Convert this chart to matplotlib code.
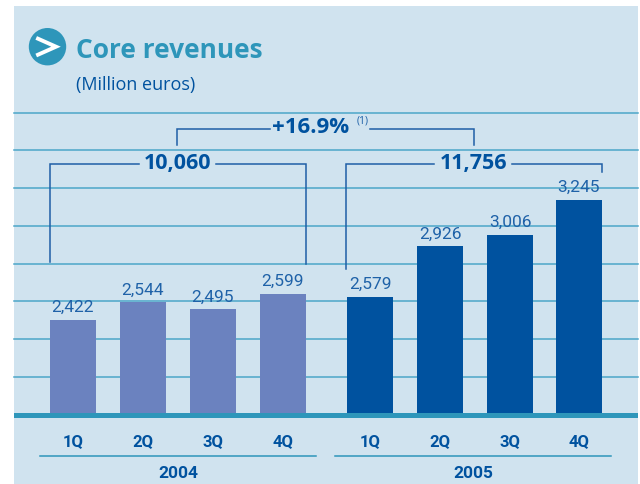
# -*- coding: utf-8 -*-
import matplotlib
matplotlib.use("Agg")
import matplotlib.pyplot as plt
from matplotlib.patches import Rectangle, Circle

quarters = ["1Q", "2Q", "3Q", "4Q"]
rev_2004 = [2422, 2544, 2495, 2599]
rev_2005 = [2579, 2926, 3006, 3245]
total_2004 = "10,060"
total_2005 = "11,756"
growth = "+16.9%"

panel = "#d0e3ef"
teal = "#2e96ba"
dark = "#00529f"
light = "#6b82bf"
grid = "#4ba6c9"
label_col = "#1f62a8"
narrow = ["Roboto", "DejaVu Sans"]
main = ["Open Sans", "DejaVu Sans"]

W, H = 640, 485
off = 0.7
fig = plt.figure(figsize=(W / 100, H / 100), dpi=100, facecolor="white")

# background axes in pixels, for panel and annotations
bg = fig.add_axes([0, 0, 1, 1], zorder=0)
bg.set_xlim(0, W)
bg.set_ylim(H - off, -off)
bg.axis("off")
bg.add_patch(Rectangle((14, 6), 624, 480, fc=panel, ec="none"))

# bar axes, 113..413 px, 1 px = 1/0.1458 euros
ax = fig.add_axes([14 / W, (H - 413 - off) / H, 624 / W, 300 / H], zorder=1)
ax.patch.set_visible(False)
ax.set_xlim(14, 638)
ax.set_ylim(1784, 1784 + 300 / 0.1458)
for s in ax.spines.values():
    s.set_visible(False)
ax.set_xticks([])
ax.set_yticks([])

for i in range(8):
    y = 1784 + 300 / 0.1458 * (1 - i * 37.7 / 300)
    ax.axhline(y, color=grid, lw=1.1, zorder=1, clip_on=False)

x04 = [73 + 70 * i for i in range(4)]
x05 = [370, 440, 510, 579]
ax.bar(x04, rev_2004, width=46, color=light, zorder=2)
ax.bar(x05, rev_2005, width=46, color=dark, zorder=2)

for x, v in zip(x04 + x05, rev_2004 + rev_2005):
    ax.annotate(f"{v:,}", (x, v), xytext=(0, 4), textcoords="offset points",
                ha="center", va="bottom", color=label_col, fontsize=12.5,
                family=narrow, zorder=3)

# base band
bg.add_patch(Rectangle((14, 413), 624, 5, fc=teal, ec="none"))
ax_top = fig.add_axes([0, 0, 1, 1], zorder=2)
ax_top.set_xlim(0, W)
ax_top.set_ylim(H - off, -off)
ax_top.axis("off")

# title block
ax_top.add_patch(Circle((47.5, 47), 18.7, fc=teal, ec="none"))
ax_top.plot([38, 56, 38], [39, 47, 55], color="white", lw=2.8, solid_joinstyle="miter")
ax_top.text(76, 49.5, "Core revenues", color=teal, fontsize=19, fontweight="bold",
            family=main, va="center", ha="left")
ax_top.text(76, 84, "(Million euros)", color=dark, fontsize=13, family=main,
            va="center", ha="left")

# brackets
brackets = [
    ([177, 177, 270], [145, 129, 129]),
    ([370, 473.5, 473.5], [129, 129, 145]),
    ([49.5, 49.5, 139], [262, 164, 164]),
    ([216, 306, 306], [164, 164, 264]),
    ([345.5, 345.5, 434], [269, 164, 164]),
    ([512, 602, 602], [164, 164, 172]),
]
for xs, ys in brackets:
    ax_top.plot(xs, ys, color="#1f5fa6", lw=1.1, solid_joinstyle="miter")

ax_top.text(311, 127, growth, color=dark, fontsize=16, fontweight="bold", family=main,
            ha="center", va="center")
ax_top.text(362.5, 120, "(1)", color=label_col, fontsize=7.5, family=main, ha="center", va="center")
ax_top.text(177.5, 162.5, total_2004, color=dark, fontsize=15.5, fontweight="bold", family=main,
            ha="center", va="center")
ax_top.text(473.5, 162.5, total_2005, color=dark, fontsize=15.5, fontweight="bold", family=main,
            ha="center", va="center")

# quarter and year labels
for x, q in zip(x04 + x05, quarters + quarters):
    ax_top.text(x, 441, q, color=dark, fontsize=12, fontweight="bold", family=narrow,
                ha="center", va="center")
ax_top.plot([40, 316], [456, 456], color=teal, lw=1.1)
ax_top.plot([335, 611], [456, 456], color=teal, lw=1.1)
ax_top.text(178, 473, "2004", color=dark, fontsize=12.5, fontweight="bold", family=narrow,
            ha="center", va="center")
ax_top.text(473, 473, "2005", color=dark, fontsize=12.5, fontweight="bold", family=narrow,
            ha="center", va="center")

fig.savefig("out.png", dpi=100, facecolor="white")
